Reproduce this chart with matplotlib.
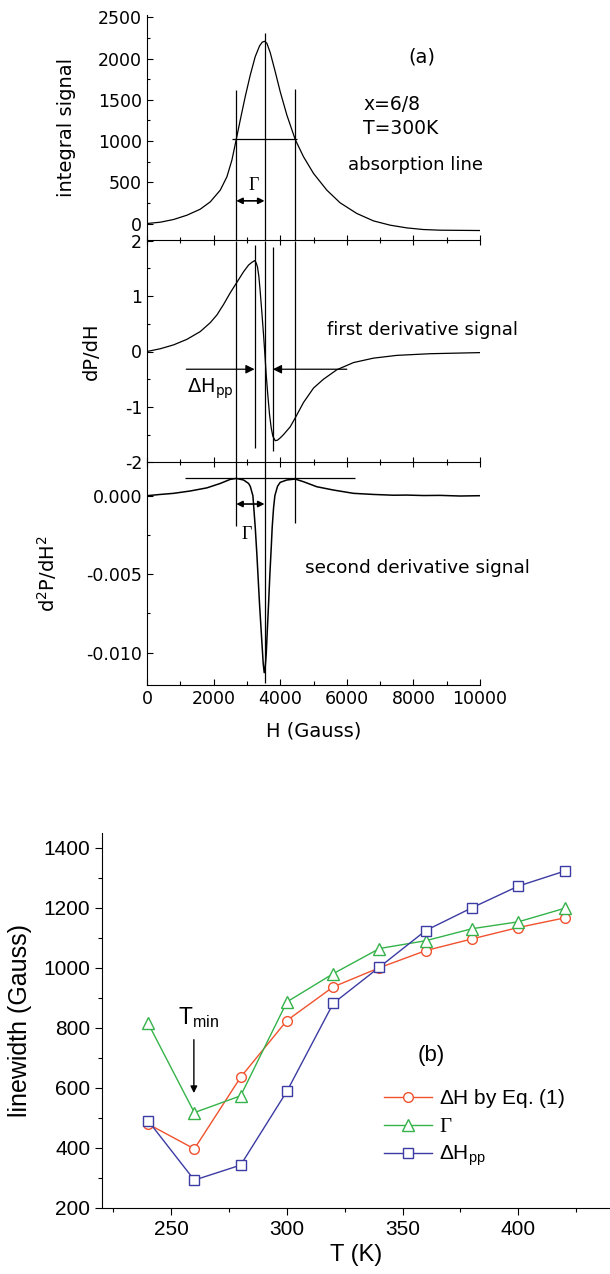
import matplotlib
matplotlib.use("Agg")
import matplotlib.pyplot as plt
from matplotlib.ticker import MultipleLocator, FormatStrFormatter

plt.rcParams["font.family"] = ["Liberation Sans", "DejaVu Sans"]
plt.rcParams["mathtext.fontset"] = "custom"
plt.rcParams["mathtext.rm"] = "Liberation Sans"
plt.rcParams["mathtext.it"] = "Liberation Sans:italic"
plt.rcParams["mathtext.bf"] = "Liberation Sans:bold"
plt.rcParams["axes.unicode_minus"] = False

# ---------------- (a) EPR spectra, x = 6/8, T = 300 K ----------------
H_abs = [0, 400, 800, 1200, 1600, 1900, 2200, 2400, 2550, 2680, 2800, 2950,
         3100, 3250, 3380, 3460, 3530, 3600, 3700, 3850, 4000, 4200, 4450,
         4700, 5000, 5400, 5800, 6300, 6800, 7300, 7800, 8300, 8800, 10000]
absorption = [0, 16, 49, 101, 174, 263, 405, 567, 770, 1020, 1255, 1540,
              1800, 2025, 2155, 2200, 2211, 2187, 2074, 1843, 1600, 1316, 1020,
              810, 608, 405, 251, 122, 32, -20, -53, -73, -81, -85]

H_d1 = [0, 400, 800, 1200, 1600, 1900, 2100, 2300, 2500, 2680, 2900, 3050,
        3150, 3230, 3280, 3320, 3360, 3400, 3450, 3500, 3540, 3580, 3630,
        3680, 3730, 3780, 3850, 3920, 4000, 4100, 4300, 4450, 4700, 5000,
        5300, 5700, 6200, 6800, 7500, 8500, 10000]
first_deriv = [0, 0.05, 0.12, 0.22, 0.36, 0.52, 0.66, 0.85, 1.06, 1.23, 1.44,
               1.56, 1.61, 1.64, 1.60, 1.52, 1.35, 1.08, 0.70, 0.30, -0.05,
               -0.42, -0.80, -1.14, -1.38, -1.53, -1.61, -1.60, -1.56, -1.50,
               -1.36, -1.20, -0.92, -0.66, -0.50, -0.33, -0.20, -0.12, -0.07,
               -0.04, -0.02]

H_d2 = [0, 400, 800, 1300, 1800, 2200, 2500, 2680, 2900, 3050, 3100, 3180,
        3250, 3300, 3380, 3420, 3460, 3490, 3520, 3550, 3580, 3610, 3650,
        3690, 3730, 3760, 3800, 3840, 3920, 4000, 4200, 4450, 4700, 5100,
        5600, 6200, 6800, 7400, 7800, 8300, 8800, 9400, 10000]
second_deriv = [0, 0.00008, 0.00015, 0.0003, 0.0005, 0.00078, 0.00104, 0.0011,
                0.001, 0.00078, 0.0006, 0.0, -0.002, -0.00376, -0.00693,
                -0.0083, -0.00968, -0.0107, -0.01127, -0.0109, -0.0101,
                -0.0087, -0.00693, -0.005, -0.00334, -0.002, -0.0008, 0.0,
                0.0006, 0.00085, 0.001, 0.00106, 0.00089, 0.00057, 0.00036,
                0.00015, 0.00008, 0.00003, 0.00004, 0.00001, 0.00002,
                -0.00002, 0.0]

# widths marked on the spectra (Gauss)
H_center = 3530
gamma_left, gamma_right = 2680, 4450
pp_left, pp_right = 3230, 3780
half_max = 1020

# ---------------- (b) linewidth vs temperature ----------------
T = [240, 260, 280, 300, 320, 340, 360, 380, 400, 420]
dH_eq1 = [479, 396, 635, 824, 936, 1000, 1057, 1096, 1134, 1166]
Gamma = [815, 517, 573, 886, 980, 1064, 1090, 1130, 1153, 1198]
dH_pp = [490, 292, 342, 588, 881, 1002, 1124, 1200, 1272, 1322]

W, Hpx = 610, 1274
fig = plt.figure(figsize=(W / 100, Hpx / 100), dpi=100)


def rect(left, top, right, bottom):
    return [left / W, 1 - bottom / Hpx, (right - left) / W, (bottom - top) / Hpx]


FA = "DejaVu Sans"          # lettering of the spectra panels
MA = "dejavusans"
ax1 = fig.add_axes(rect(147, 15, 480, 240))
ax2 = fig.add_axes(rect(147, 240.7, 480, 462.3))
ax3 = fig.add_axes(rect(147, 462.3, 480, 685))

tick_fs = 12.5
for ax in (ax1, ax2, ax3):
    ax.set_xlim(0, 10000)
    ax.spines["top"].set_visible(False)
    ax.spines["right"].set_visible(False)
    ax.xaxis.set_major_locator(MultipleLocator(2000))
    ax.xaxis.set_minor_locator(MultipleLocator(1000))
    ax.tick_params(axis="y", which="major", direction="in", length=4,
                   labelsize=tick_fs, width=0.8)
    ax.tick_params(axis="y", which="minor", direction="in", length=2.5, width=0.8)
    ax.set_facecolor("none")

for ax in (ax1, ax2):
    ax.tick_params(axis="x", which="major", direction="inout", length=7,
                   labelbottom=False, width=0.8)
    ax.tick_params(axis="x", which="minor", direction="inout", length=5, width=0.8)
ax3.tick_params(axis="x", which="major", direction="in", length=4,
                labelsize=tick_fs, width=0.8)
ax3.tick_params(axis="x", which="minor", direction="in", length=3, width=0.8)
for ax in (ax1, ax2, ax3):
    for lab in ax.get_xticklabels() + ax.get_yticklabels():
        lab.set_fontfamily(FA)

lc = "black"
lw = 0.9
head = dict(color=lc, shrinkA=0, shrinkB=0)

# absorption line
ax1.plot(H_abs, absorption, color=lc, lw=lw)
ax1.set_ylim(-200, 2530)
ax1.yaxis.set_major_locator(MultipleLocator(500))
ax1.yaxis.set_minor_locator(MultipleLocator(250))
ax1.vlines([gamma_left], 1620, -200, color=lc, lw=lw)
ax1.vlines([gamma_right], 1635, -200, color=lc, lw=lw)
ax1.vlines([H_center], 2310, -200, color=lc, lw=lw)
ax1.hlines(half_max, 2550, 4500, color=lc, lw=lw)
ax1.annotate("", xy=(gamma_left, 275), xytext=(H_center, 275),
             arrowprops=dict(arrowstyle="<|-|>", lw=1.2, mutation_scale=9, **head))
ax1.text(3200, 466, "Γ", family="Liberation Serif", fontsize=13,
         ha="center", va="center")
ax1.text(8250, 2024, "(a)", family=FA, fontsize=14, ha="center", va="center")
ax1.text(6500, 1450, "x=6/8", family=FA, fontsize=13.5, ha="left", va="center")
ax1.text(6500, 1150, "T=300K", family=FA, fontsize=13.5, ha="left", va="center")
ax1.text(6050, 709, "absorption line", family=FA, fontsize=13, ha="left",
         va="center")
ax1.set_ylabel("integral signal", family=FA, fontsize=14)
ax1.yaxis.set_label_coords(-0.213, 0.5)

# first derivative
ax2.plot(H_d1, first_deriv, color=lc, lw=lw)
ax2.set_ylim(-2, 2)
ax2.yaxis.set_major_locator(MultipleLocator(1))
ax2.yaxis.set_minor_locator(MultipleLocator(0.5))
ax2.yaxis.set_major_formatter(FormatStrFormatter("%d"))
ax2.vlines([gamma_left, H_center, gamma_right], -2, 2, color=lc, lw=lw)
ax2.vlines([pp_left], -1.74, 1.92, color=lc, lw=lw)
ax2.vlines([pp_right], -1.80, 1.88, color=lc, lw=lw)
ax2.annotate("", xy=(pp_left, -0.32), xytext=(1180, -0.32),
             arrowprops=dict(arrowstyle="-|>", lw=0.9, mutation_scale=13, **head))
ax2.annotate("", xy=(pp_right, -0.32), xytext=(6000, -0.32),
             arrowprops=dict(arrowstyle="-|>", lw=0.9, mutation_scale=13, **head))
ax2.text(1200, -0.75, r"$\mathrm{\Delta H_{pp}}$", fontsize=14,
         math_fontfamily=MA, ha="left", va="baseline")
ax2.text(5400, 0.39, "first derivative signal", family=FA, fontsize=13,
         ha="left", va="center")
ax2.set_ylabel("dP/dH", family=FA, fontsize=14)
ax2.yaxis.set_label_coords(-0.138, 0.5)

# second derivative
ax3.plot(H_d2, second_deriv, color=lc, lw=1.1)
ax3.set_ylim(-0.012057, 0.002127)
ax3.yaxis.set_major_locator(MultipleLocator(0.005))
ax3.yaxis.set_minor_locator(MultipleLocator(0.0025))
ax3.yaxis.set_major_formatter(FormatStrFormatter("%.3f"))
ax3.vlines([gamma_left], -0.0019, 0.002127, color=lc, lw=lw)
ax3.vlines([gamma_right], -0.00175, 0.002127, color=lc, lw=lw)
ax3.vlines([H_center], -0.0119, 0.002127, color=lc, lw=lw)
ax3.hlines(0.0011, 1130, 6250, color=lc, lw=lw)
ax3.annotate("", xy=(gamma_left, -0.00053), xytext=(H_center, -0.00053),
             arrowprops=dict(arrowstyle="<|-|>", lw=1.2, mutation_scale=9, **head))
ax3.text(2980, -0.0025, "Γ", family="Liberation Serif", fontsize=13,
         ha="center", va="center")
ax3.text(4750, -0.0046, "second derivative signal", family=FA, fontsize=13.3,
         ha="left", va="center")
ax3.set_ylabel(r"d$^{2}$P/dH$^{2}$", family=FA, math_fontfamily=MA, fontsize=14)
ax3.yaxis.set_label_coords(-0.265, 0.5)
ax3.set_xlabel("H (Gauss)", family=FA, fontsize=14, labelpad=10)

# ---------------- (b) ----------------
axb = fig.add_axes(rect(102, 833.3, 610, 1207.7))
axb.set_xlim(220.1, 439.6)
axb.set_ylim(200, 1448)
axb.spines["top"].set_visible(False)
axb.spines["right"].set_visible(False)
axb.xaxis.set_major_locator(MultipleLocator(50))
axb.xaxis.set_minor_locator(MultipleLocator(25))
axb.yaxis.set_major_locator(MultipleLocator(200))
axb.yaxis.set_minor_locator(MultipleLocator(100))
axb.tick_params(which="major", direction="out", length=5, width=0.8,
                labelsize=15)
axb.tick_params(which="minor", direction="out", length=3, width=0.8)

red, green, blue = "#F0522E", "#35B34A", "#3B3BA3"
ms = 7
axb.plot(T, dH_eq1, "-o", color=red, lw=1, ms=ms, mfc="white", mec=red,
         mew=1, label=r"$\mathrm{\Delta H}$ by Eq. (1)")
axb.plot(T, Gamma, "-^", color=green, lw=1, ms=ms + 1, mfc="white",
         mec=green, mew=1, label="Γ")
axb.plot(T, dH_pp, "-s", color=blue, lw=1, ms=ms - 0.5, mfc="white",
         mec=blue, mew=1, label=r"$\mathrm{\Delta H_{pp}}$")

leg = axb.legend(loc="upper left", bbox_to_anchor=(0.555, 0.322), frameon=False,
                 fontsize=15, handlelength=2.3, handletextpad=0.34,
                 labelspacing=0.34, borderpad=0, borderaxespad=0)
leg.get_texts()[1].set_fontfamily("Liberation Serif")

axb.text(362.3, 709, "(b)", fontsize=16, ha="center", va="center")
axb.text(253.0, 811, r"$\mathrm{T_{min}}$", fontsize=16.5, ha="left",
         va="baseline")
axb.annotate("", xy=(259.8, 582), xytext=(259.8, 760),
             arrowprops=dict(arrowstyle="-|>", color="black", lw=1,
                             mutation_scale=10, shrinkA=0, shrinkB=0))
axb.set_xlabel("T (K)", fontsize=17, labelpad=4)
axb.set_ylabel("linewidth (Gauss)", fontsize=18)
axb.yaxis.set_label_coords(-0.138, 0.5)

fig.savefig("out.png", dpi=100, facecolor="white")
